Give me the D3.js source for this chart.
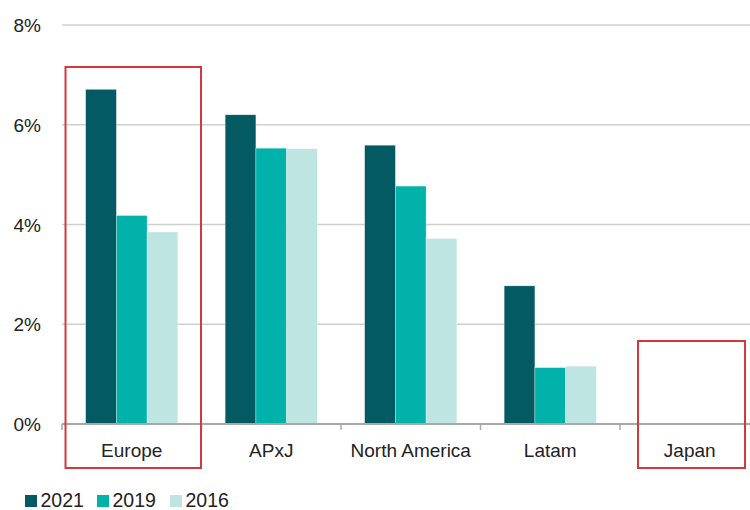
<!DOCTYPE html>
<html>
<head>
<meta charset="utf-8">
<script src="https://cdn.jsdelivr.net/npm/d3@7"></script>
<style>
  html, body { margin: 0; padding: 0; background: #fff; }
  svg { display: block; font-family: "Liberation Sans", Arial, Helvetica, sans-serif; }
</style>
</head>
<body>
<svg id="chart" width="750" height="510"></svg>
<script>
const categories = ["Europe", "APxJ", "North America", "Latam", "Japan"];
const seriesNames = ["2021", "2019", "2016"];
const values2021 = [6.71, 6.20, 5.59, 2.77, 0];
const values2019 = [4.18, 5.53, 4.77, 1.13, 0];
const values2016 = [3.85, 5.52, 3.72, 1.16, 0];
const yTicks = [0, 2, 4, 6, 8];
const colors = ["#035a63", "#00b2a9", "#bfe5e2"];
const highlighted = ["Europe", "Japan"];

const seriesValues = [values2021, values2019, values2016];
const svg = d3.select("#chart");

const x = d3.scaleBand().domain(categories).range([62, 759.5]).paddingInner(0).paddingOuter(0);
const xInner = d3.scaleBand().domain(seriesNames).range([0, x.bandwidth()]).paddingInner(0).paddingOuter(0.77);
const y = d3.scaleLinear().domain([0, 8]).range([424, 25]);

// gridlines
svg.append("g").selectAll("line").data(yTicks.filter(d => d > 0)).join("line")
  .attr("x1", 62).attr("x2", 750)
  .attr("y1", d => y(d)).attr("y2", d => y(d))
  .attr("stroke", "#cfcfcf").attr("stroke-width", 1.5);

// y tick labels
svg.append("g").selectAll("text").data(yTicks).join("text")
  .attr("x", 41).attr("y", d => y(d) + 7)
  .attr("text-anchor", "end")
  .attr("font-size", 19).attr("fill", "#222")
  .text(d => d + "%");

// bars
const groups = svg.append("g").selectAll("g").data(categories).join("g")
  .attr("transform", d => `translate(${x(d)},0)`);
groups.selectAll("rect").data((c, i) => seriesNames.map((s, j) => ({s, j, v: seriesValues[j][i]})))
  .join("rect")
  .attr("x", d => xInner(d.s))
  .attr("width", xInner.bandwidth())
  .attr("y", d => y(d.v))
  .attr("height", d => y(0) - y(d.v))
  .attr("fill", d => colors[d.j])
  .attr("stroke", "rgba(255,255,255,0.5)").attr("stroke-width", 0.6);

// x axis line
svg.append("line").attr("x1", 62).attr("x2", 750).attr("y1", y(0)).attr("y2", y(0))
  .attr("stroke", "#a8a8a8").attr("stroke-width", 2);
// x axis ticks at band boundaries
svg.append("g").selectAll("line").data(categories).join("line")
  .attr("x1", d => x(d)).attr("x2", d => x(d))
  .attr("y1", y(0)).attr("y2", y(0) + 6)
  .attr("stroke", "#a8a8a8").attr("stroke-width", 1.5);

// category labels
svg.append("g").selectAll("text").data(categories).join("text")
  .attr("x", d => x(d) + x.bandwidth() / 2).attr("y", 457)
  .attr("text-anchor", "middle")
  .attr("font-size", 19).attr("fill", "#222")
  .text(d => d);

// highlight boxes
const boxTop = { "Europe": 67, "Japan": 341 };
const boxOffset = { "Europe": 3.5, "Japan": 18 };
const boxWidth = { "Europe": 135.5, "Japan": 107 };
svg.append("g").selectAll("rect").data(highlighted).join("rect")
  .attr("x", d => x(d) + boxOffset[d])
  .attr("width", d => boxWidth[d])
  .attr("y", d => boxTop[d])
  .attr("height", d => 468 - boxTop[d])
  .attr("fill", "none").attr("stroke", "#d3383f").attr("stroke-width", 2);

// legend
const legendX = [25, 97, 170];
const lg = svg.append("g").selectAll("g").data(seriesNames).join("g")
  .attr("transform", (d, i) => `translate(${legendX[i]},495)`);
lg.append("rect").attr("width", 12).attr("height", 12).attr("fill", (d, i) => colors[i]);
lg.append("text").attr("x", 15.5).attr("y", 12).attr("font-size", 19.5).attr("fill", "#222").text(d => d);
</script>
</body>
</html>
